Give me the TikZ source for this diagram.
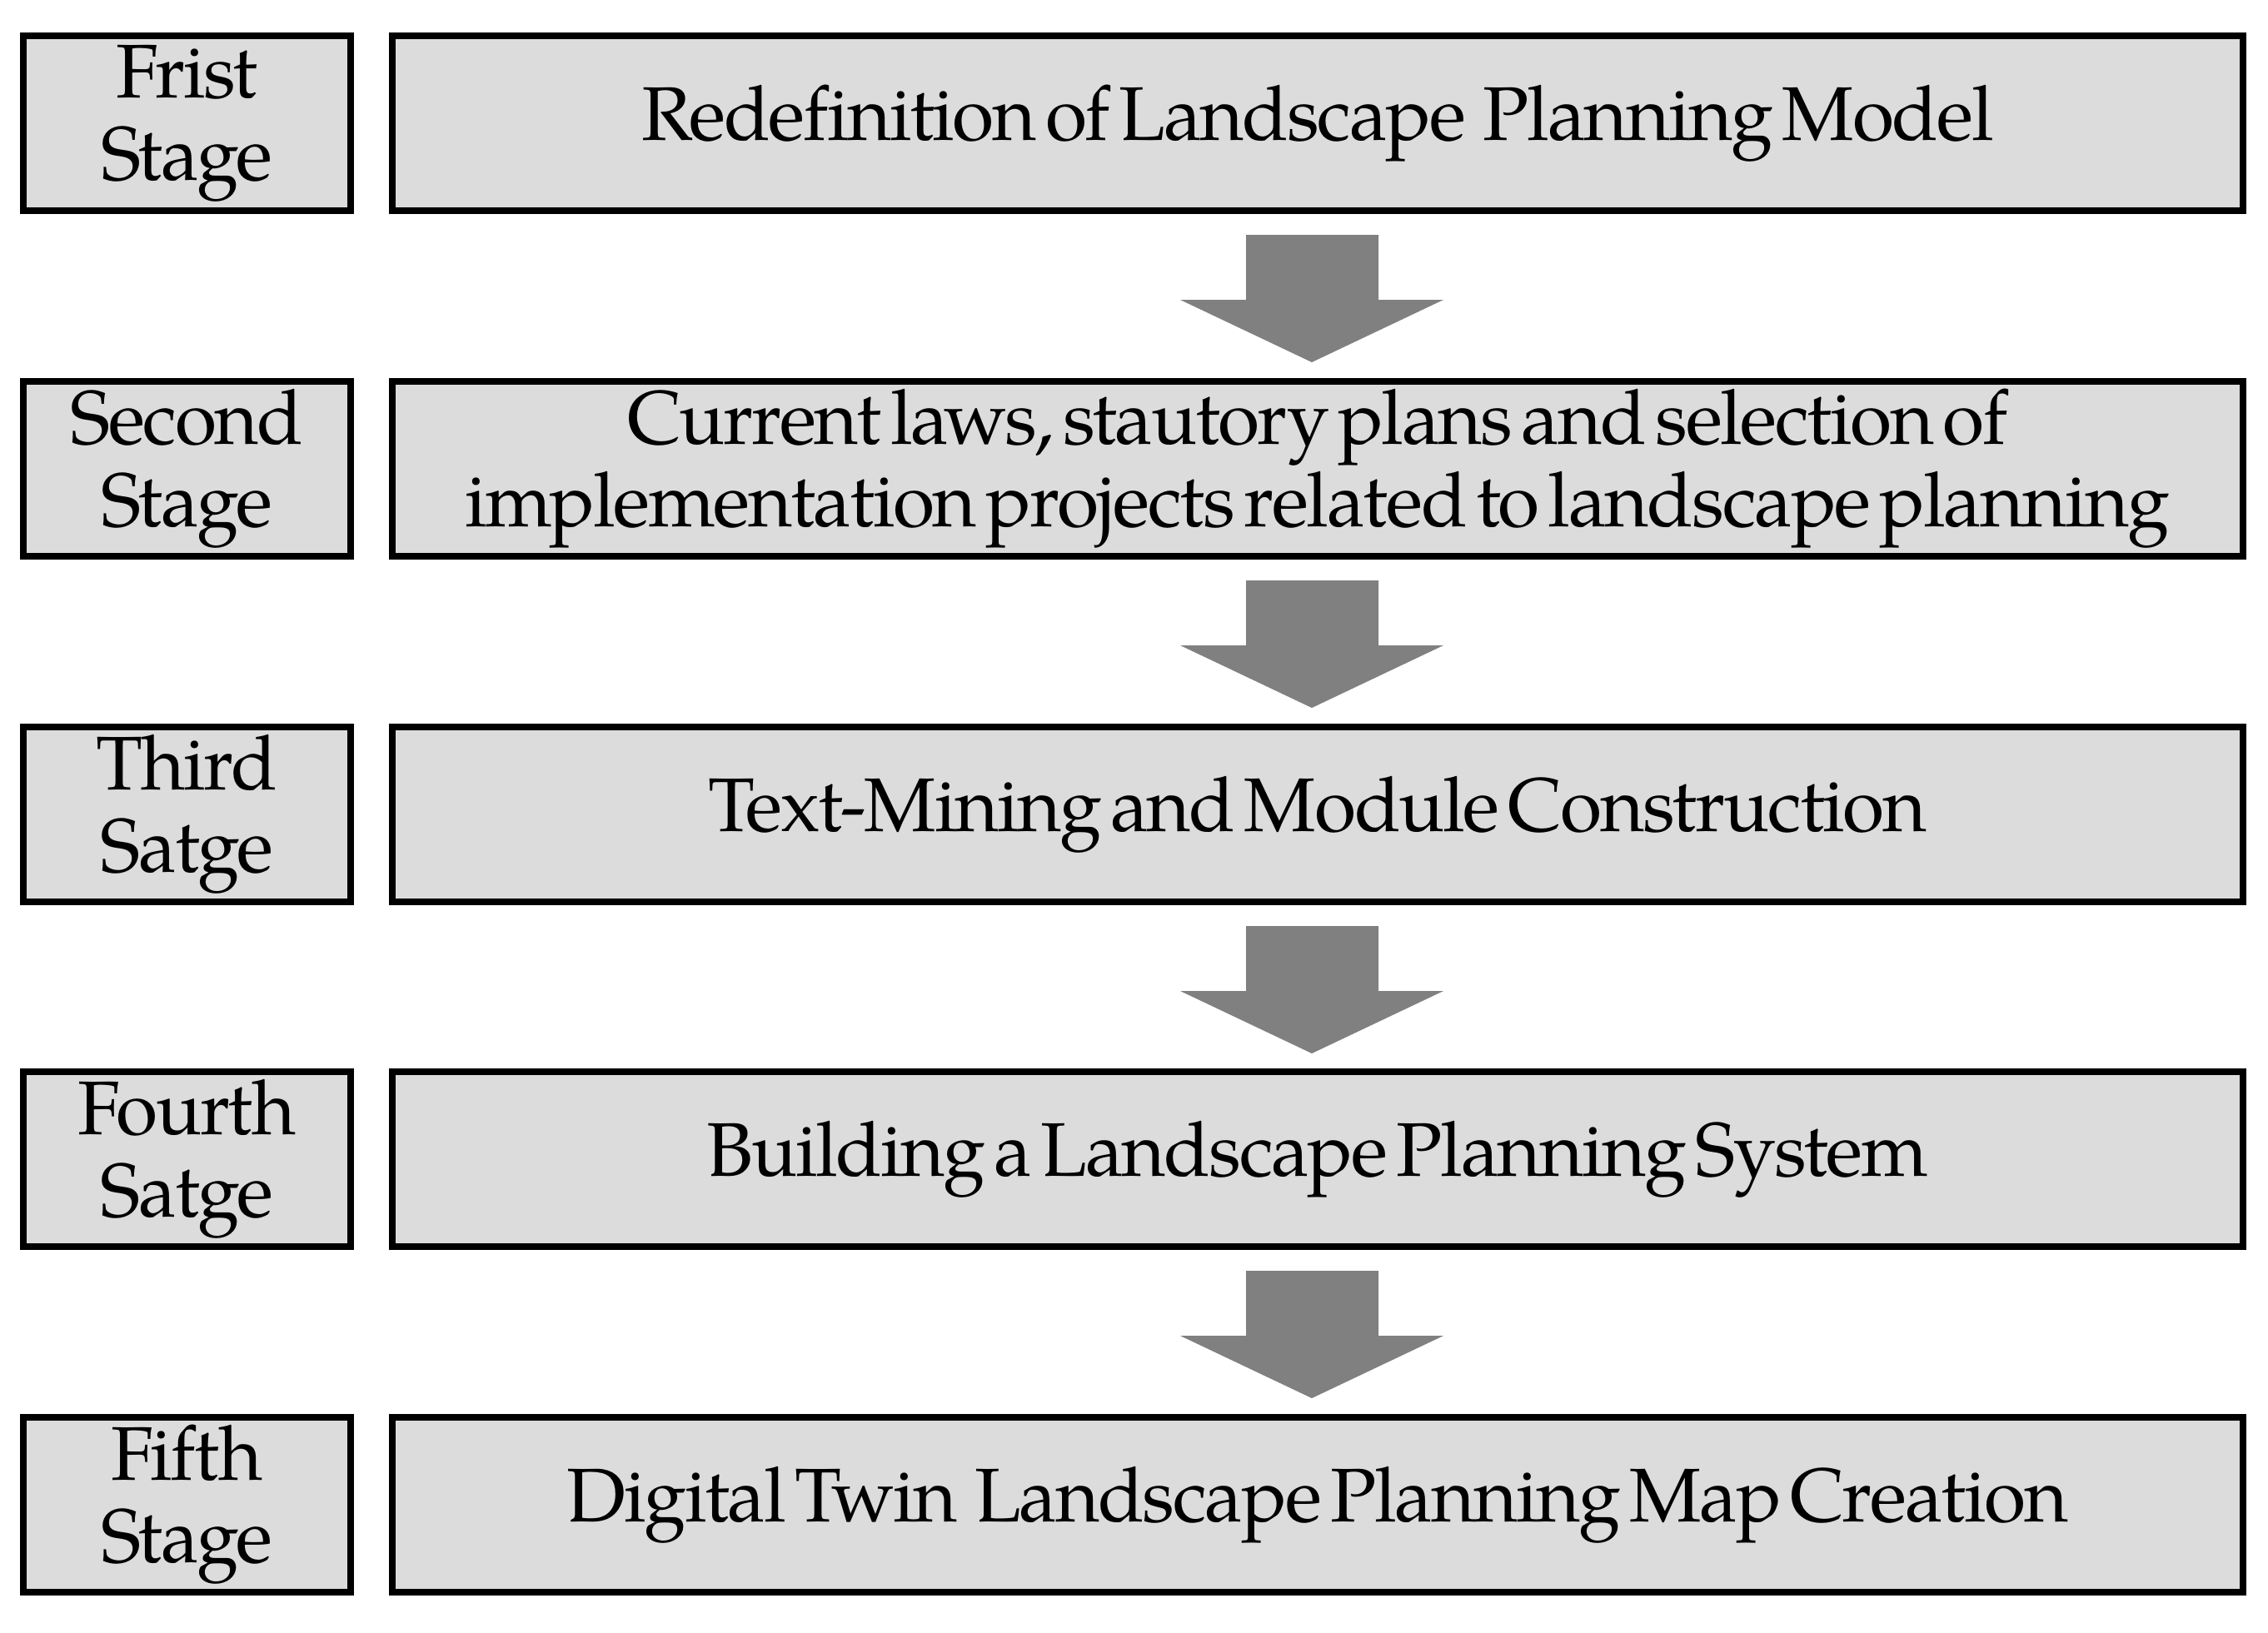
\documentclass[tikz,border=0pt]{standalone}
\usepackage{fontspec}
\setmainfont{TeX Gyre Pagella}[WordSpace=0.5,LetterSpace=-2.4]
\usetikzlibrary{calc}

\definecolor{boxgray}{RGB}{220,220,220}
\definecolor{arrowgray}{RGB}{128,128,128}

\tikzset{
  stagebox/.style={draw=black, line width=2.3pt, fill=boxgray, inner sep=0pt,
    minimum width=3.93cm, minimum height=2.10cm, align=center,
    font=\fontsize{26}{28.2}\selectfont},
  taskbox/.style={stagebox, minimum width=22.22cm}
}

\begin{document}
\begin{tikzpicture}
\useasboundingbox (0,0) rectangle (27.23,19.60);

% Stage labels
\node[stagebox] (s1) at (2.245,18.12) {Frist\\Stage};
\node[stagebox] (s2) at (2.245,13.97) {Second\\Stage};
\node[stagebox] (s3) at (2.245,9.82) {Third\\Satge};
\node[stagebox] (s4) at (2.245,5.68) {Fourth\\Satge};
\node[stagebox] (s5) at (2.245,1.53) {Fifth\\Stage};

% Tasks
\node[taskbox] (t1) at (15.82,18.12) {Redefinition of Landscape \ Planning Model};
\node[taskbox] (t2) at (15.82,13.97) {Current laws, stautory plans and selection of\\implementation projects related to landscape planning};
\node[taskbox] (t3) at (15.82,9.82) {Text-Mining and Module Construction};
\node[taskbox] (t4) at (15.82,5.68) {Building a Landscape Planning System};
\node[taskbox] (t5) at (15.82,1.53) {Digital Twin \ Landscape Planning Map Creation};

% Arrows
\foreach \a in {t1,t2,t3,t4} {
  \fill[arrowgray] ($(\a.south)+(-0.86,-0.25)$) -- ($(\a.south)+(0.73,-0.25)$)
    -- ($(\a.south)+(0.73,-1.03)$) -- ($(\a.south)+(1.51,-1.03)$)
    -- ($(\a.south)+(-0.07,-1.78)$) -- ($(\a.south)+(-1.65,-1.03)$)
    -- ($(\a.south)+(-0.86,-1.03)$) -- cycle;
}

\end{tikzpicture}
\end{document}
